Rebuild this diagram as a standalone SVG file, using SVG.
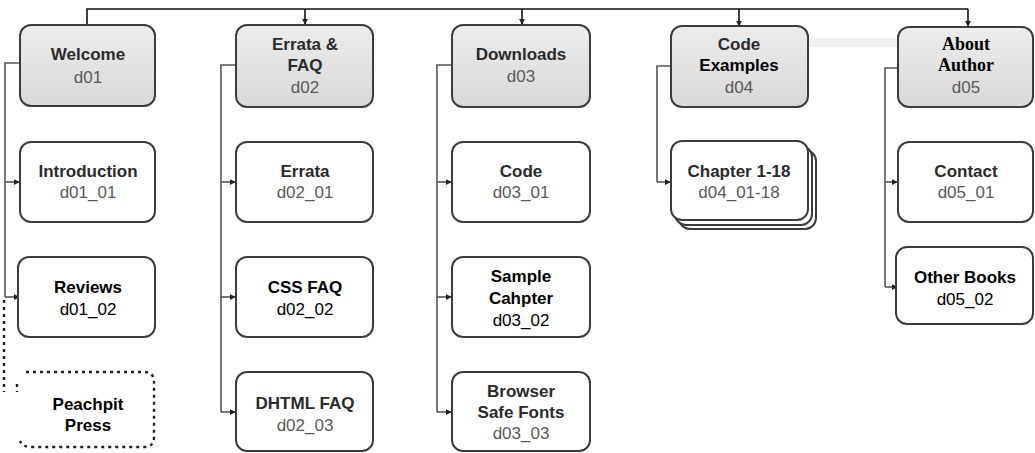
<svg xmlns="http://www.w3.org/2000/svg" width="1035" height="453" viewBox="0 0 1035 453">
  <defs>
    <linearGradient id="headFill" x1="0" y1="0" x2="0" y2="1">
      <stop offset="0" stop-color="#ececec"/>
      <stop offset="1" stop-color="#d9d9d9"/>
    </linearGradient>
    <marker id="arrow" viewBox="0 0 8 8" refX="7" refY="4" markerWidth="6" markerHeight="6" orient="auto" markerUnits="userSpaceOnUse">
      <path d="M0,0 L8,4 L0,8 z" fill="#222"/>
    </marker>
  </defs>
  <style>
    .head { fill: url(#headFill); stroke: #3c3c3c; stroke-width: 2; }
    .page { fill: #ffffff; stroke: #3c3c3c; stroke-width: 2; }
    .title { font-family: "Liberation Sans", Arial, sans-serif; font-size: 17px; font-weight: bold; fill: #2b2b2b; text-anchor: middle; }
    .id { font-family: "Liberation Sans", Arial, sans-serif; font-size: 17px; fill: #5a5a5a; text-anchor: middle; }
    .sharp { fill: #000000; }
    .serif { font-family: "Liberation Serif", "Times New Roman", serif; fill: #000000; }
    .bus { fill: none; stroke: #111; stroke-width: 1.6; }
    .link { fill: none; stroke: #555; stroke-width: 1.6; }
    .dash { fill: none; stroke: #222; stroke-width: 2.4; stroke-dasharray: 3 4; }
  </style>

  <rect width="1035" height="453" fill="#ffffff"/>
  <!-- faint band between Code Examples and About Author -->
  <rect x="808" y="38" width="90" height="9" fill="#f0f0f0"/>

  <!-- connectors -->
  <g id="connectors">
    <path class="bus" d="M87,25 V9 H968"/>
    <path class="bus" d="M305,9 V24" marker-end="url(#arrow)"/>
    <path class="bus" d="M522,9 V24" marker-end="url(#arrow)"/>
    <path class="bus" d="M739,9 V26" marker-end="url(#arrow)"/>
    <path class="bus" d="M968,9 V26" marker-end="url(#arrow)"/>

    <!-- Welcome branch -->
    <path class="link" d="M20,63 H5 V297"/>
    <path class="link" d="M5,182 H19" marker-end="url(#arrow)"/>
    <path class="link" d="M5,297 H19" marker-end="url(#arrow)"/>
    <path class="dash" d="M4,300 V392"/>
    <path class="dash" d="M17,384 V392"/>

    <!-- Errata & FAQ branch -->
    <path class="link" d="M236,65 H221 V412"/>
    <path class="link" d="M221,182 H235" marker-end="url(#arrow)"/>
    <path class="link" d="M221,297 H235" marker-end="url(#arrow)"/>
    <path class="link" d="M221,412 H235" marker-end="url(#arrow)"/>

    <!-- Downloads branch -->
    <path class="link" d="M452,65 H437 V412"/>
    <path class="link" d="M437,182 H451" marker-end="url(#arrow)"/>
    <path class="link" d="M437,297 H451" marker-end="url(#arrow)"/>
    <path class="link" d="M437,412 H451" marker-end="url(#arrow)"/>

    <!-- Code Examples branch -->
    <path class="link" d="M671,66 H657 V182"/>
    <path class="link" d="M657,182 H670" marker-end="url(#arrow)"/>

    <!-- About Author branch -->
    <path class="link" d="M898,68 H885 V287"/>
    <path class="link" d="M885,182 H897" marker-end="url(#arrow)"/>
    <path class="link" d="M885,287 H897" marker-end="url(#arrow)"/>
  </g>

  <!-- column 1 -->
  <g id="welcome">
    <rect class="head" x="20" y="25" width="135" height="81" rx="11"/>
    <text class="title" x="88" y="60">Welcome</text>
    <text class="id" x="88" y="83">d01</text>
  </g>
  <g id="introduction">
    <rect class="page" x="20" y="142" width="135" height="80" rx="11"/>
    <text class="title" x="88" y="177">Introduction</text>
    <text class="id" x="88" y="198">d01_01</text>
  </g>
  <g id="reviews">
    <rect class="page" x="18" y="257" width="137" height="80" rx="11"/>
    <text class="title sharp" x="88" y="293">Reviews</text>
    <text class="id sharp" x="88" y="315">d01_02</text>
  </g>
  <g id="peachpit-press">
    <path class="dash" d="M26,372 H144 Q154,372 154,382 V437 Q154,447 144,447 H32 Q22,447 20,441"/>
    <text class="title sharp" x="88" y="410">Peachpit</text>
    <text class="title sharp" x="88" y="431">Press</text>
  </g>

  <!-- column 2 -->
  <g id="errata-faq">
    <rect class="head" x="236" y="25" width="137" height="82" rx="11"/>
    <text class="title" x="305" y="50">Errata &amp;</text>
    <text class="title" x="305" y="71">FAQ</text>
    <text class="id" x="305" y="93">d02</text>
  </g>
  <g id="errata">
    <rect class="page" x="236" y="142" width="137" height="80" rx="11"/>
    <text class="title" x="305" y="177">Errata</text>
    <text class="id" x="305" y="198">d02_01</text>
  </g>
  <g id="css-faq">
    <rect class="page" x="236" y="257" width="137" height="80" rx="11"/>
    <text class="title sharp" x="305" y="293">CSS FAQ</text>
    <text class="id sharp" x="305" y="315">d02_02</text>
  </g>
  <g id="dhtml-faq">
    <rect class="page" x="236" y="372" width="137" height="79" rx="11"/>
    <text class="title" x="305" y="409">DHTML FAQ</text>
    <text class="id" x="305" y="431">d02_03</text>
  </g>

  <!-- column 3 -->
  <g id="downloads">
    <rect class="head" x="452" y="25" width="138" height="82" rx="11"/>
    <text class="title" x="521" y="60">Downloads</text>
    <text class="id" x="521" y="82">d03</text>
  </g>
  <g id="code">
    <rect class="page" x="452" y="142" width="138" height="80" rx="11"/>
    <text class="title" x="521" y="177">Code</text>
    <text class="id" x="521" y="198">d03_01</text>
  </g>
  <g id="sample-chapter">
    <rect class="page" x="452" y="257" width="138" height="80" rx="11"/>
    <text class="title sharp" x="521" y="282">Sample</text>
    <text class="title sharp" x="521" y="304">Cahpter</text>
    <text class="id sharp" x="521" y="326">d03_02</text>
  </g>
  <g id="browser-safe-fonts">
    <rect class="page" x="452" y="372" width="138" height="79" rx="11"/>
    <text class="title" x="521" y="397">Browser</text>
    <text class="title" x="521" y="418">Safe Fonts</text>
    <text class="id" x="521" y="439">d03_03</text>
  </g>

  <!-- column 4 -->
  <g id="code-examples">
    <rect class="head" x="671" y="26" width="137" height="81" rx="11"/>
    <text class="title" x="739" y="50">Code</text>
    <text class="title sharp" x="739" y="71">Examples</text>
    <text class="id" x="739" y="93">d04</text>
  </g>
  <g id="chapters">
    <rect class="page" x="679" y="150" width="137" height="79" rx="11"/>
    <rect class="page" x="675" y="146" width="137" height="79" rx="11"/>
    <rect class="page" x="671" y="141" width="137" height="79" rx="11"/>
    <text class="title" x="739" y="177">Chapter 1-18</text>
    <text class="id" x="739" y="198">d04_01-18</text>
  </g>

  <!-- column 5 -->
  <g id="about-author">
    <rect class="head" x="898" y="27" width="135" height="80" rx="11"/>
    <text class="title serif" x="966" y="50" style="font-size:18px">About</text>
    <text class="title serif" x="966" y="71" style="font-size:18px">Author</text>
    <text class="id" x="966" y="93">d05</text>
  </g>
  <g id="contact">
    <rect class="page" x="898" y="142" width="135" height="80" rx="11"/>
    <text class="title" x="966" y="177">Contact</text>
    <text class="id" x="966" y="198">d05_01</text>
  </g>
  <g id="other-books">
    <rect class="page" x="896" y="247" width="137" height="77" rx="11"/>
    <text class="title sharp" x="965" y="283">Other Books</text>
    <text class="id sharp" x="965" y="305">d05_02</text>
  </g>
</svg>
